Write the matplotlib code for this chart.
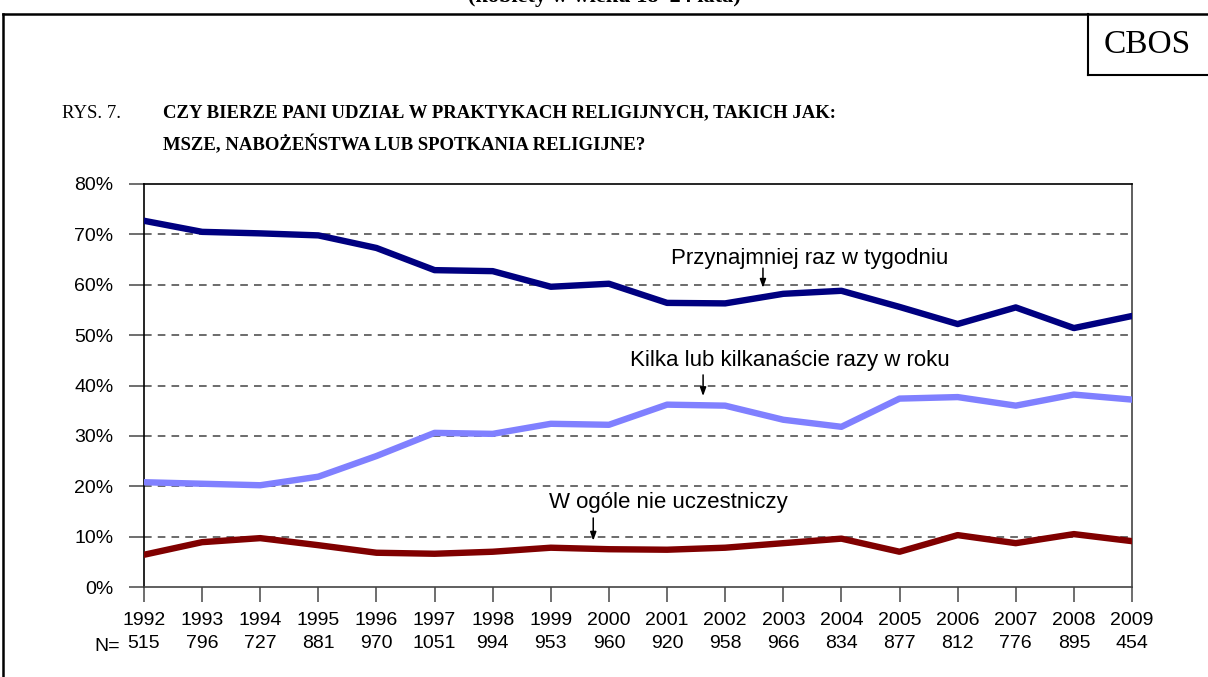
import numpy as np
import matplotlib
matplotlib.use("Agg")
import matplotlib.pyplot as plt
from matplotlib.lines import Line2D
from matplotlib.ticker import FuncFormatter


YEARS = [1992, 1993, 1994, 1995, 1996, 1997, 1998, 1999, 2000,
         2001, 2002, 2003, 2004, 2005, 2006, 2007, 2008, 2009]
N_VALUES = [515, 796, 727, 881, 970, 1051, 994, 953, 960,
            920, 958, 966, 834, 877, 812, 776, 895, 454]

WEEKLY = [72.7, 70.5, 70.2, 69.8, 67.3, 62.9, 62.7, 59.6, 60.2,
          56.4, 56.3, 58.2, 58.8, 55.6, 52.2, 55.5, 51.4, 53.8]
FEW_TIMES = [20.8, 20.5, 20.2, 21.9, 26.0, 30.6, 30.4, 32.4, 32.2,
             36.2, 36.0, 33.2, 31.8, 37.4, 37.7, 36.0, 38.2, 37.2]
NEVER = [6.4, 8.9, 9.7, 8.3, 6.8, 6.6, 7.0, 7.8, 7.5,
         7.4, 7.8, 8.7, 9.6, 7.0, 10.3, 8.7, 10.5, 9.1]

SERIES_LABELS = [
    "Przynajmniej raz w tygodniu",
    "Kilka lub kilkanaście razy w roku",
    "W ogóle nie uczestniczy",
]
SERIES_COLORS = ["#000080", "#8080ff", "#800000"]


fig = plt.figure(figsize=(12.08, 6.77), dpi=100)
sans = ["Liberation Sans", "DejaVu Sans"]
serif = ["Liberation Serif", "DejaVu Serif"]

ax = fig.add_axes([144 / 1208, 1 - 587 / 677, 988 / 1208, 403 / 677])

x = np.array(YEARS)
for values, color in zip([WEEKLY, FEW_TIMES, NEVER], SERIES_COLORS):
    ax.plot(x, values, color=color, linewidth=4.6, solid_capstyle="round",
            solid_joinstyle="round", zorder=3)

ax.set_xlim(YEARS[0], YEARS[-1])
ax.set_ylim(0, 80)
ax.set_yticks(range(0, 81, 10))
ax.yaxis.set_major_formatter(FuncFormatter(lambda v, p: f"{v:.0f}%"))
ax.set_xticks(YEARS)
ax.set_xticklabels([f"{y}\n{n}" for y, n in zip(YEARS, N_VALUES)],
                   family=sans, fontsize=14, linespacing=1.45)
for lab in ax.get_yticklabels():
    lab.set_family(sans)
    lab.set_fontsize(14)

ax.tick_params(axis="y", length=11, width=1.2, color="#555555", pad=11)
ax.tick_params(axis="x", length=11, width=1.2, color="#555555", pad=7)

for yv in range(10, 80, 10):
    ax.axhline(yv, color="#444444", linewidth=1.1, linestyle=(0, (5, 4)),
               zorder=1)

for side in ["top", "right", "left", "bottom"]:
    ax.spines[side].set_linewidth(1.2)
ax.spines["right"].set_color("#444444")
ax.spines["bottom"].set_color("#444444")

ax.text(1991.36, -11.9, "N=", family=sans, fontsize=14, ha="center",
        va="center", clip_on=False)

# opisy serii ze strzałkami: (tekst, x tekstu, y tekstu, x strzałki, y od, y do)
annots = [
    (SERIES_LABELS[0], 2003.46, 65.3, 2002.65, 63.3, 59.4),
    (SERIES_LABELS[1], 2003.11, 44.9, 2001.62, 42.1, 37.9),
    (SERIES_LABELS[2], 2001.02, 16.7, 1999.73, 13.7, 9.2),
]
for text, tx, ty, axx, y0, y1 in annots:
    ax.text(tx, ty, text, family=sans, fontsize=16, ha="center", va="center")
    ax.annotate("", xy=(axx, y1), xytext=(axx, y0),
                arrowprops=dict(arrowstyle="-|>,head_length=0.5,head_width=0.18",
                                color="black", lw=1.1, shrinkA=0, shrinkB=0))

# nagłówek (obcięty u góry, jak w oryginale)
fig.text(0.5, 1 + 3 / 677, "(kobiety w wieku 18–24 lata)", family=serif,
         fontweight="bold", fontsize=16, ha="center", va="center")
fig.text(62 / 1208, 1 - 113 / 677, "RYS. 7.", family=serif, fontsize=13.5,
         ha="left", va="center")
fig.text(163 / 1208, 1 - 113 / 677,
         "CZY BIERZE PANI UDZIAŁ W PRAKTYKACH RELIGIJNYCH, TAKICH JAK:",
         family=serif, fontsize=13.5, fontweight="bold", ha="left", va="center")
fig.text(163 / 1208, 1 - 145 / 677,
         "MSZE, NABOŻEŃSTWA LUB SPOTKANIA RELIGIJNE?",
         family=serif, fontsize=13.5, fontweight="bold", ha="left", va="center")
fig.text(1147 / 1208, 1 - 45 / 677, "CBOS", family=serif, fontsize=24,
         ha="center", va="center")

# ramki
frame_top = 1 - 14 / 677
fig.add_artist(Line2D([3 / 1208, 3 / 1208], [0, frame_top], color="black",
                      lw=1.8, transform=fig.transFigure))
fig.add_artist(Line2D([3 / 1208, 1], [frame_top, frame_top], color="black",
                      lw=1.8, transform=fig.transFigure))
fig.add_artist(Line2D([1088 / 1208, 1088 / 1208], [frame_top, 1 - 75 / 677],
                      color="black", lw=1.5, transform=fig.transFigure))
fig.add_artist(Line2D([1088 / 1208, 1], [1 - 75 / 677, 1 - 75 / 677],
                      color="black", lw=1.5, transform=fig.transFigure))

fig.savefig("out.png", dpi=100)
